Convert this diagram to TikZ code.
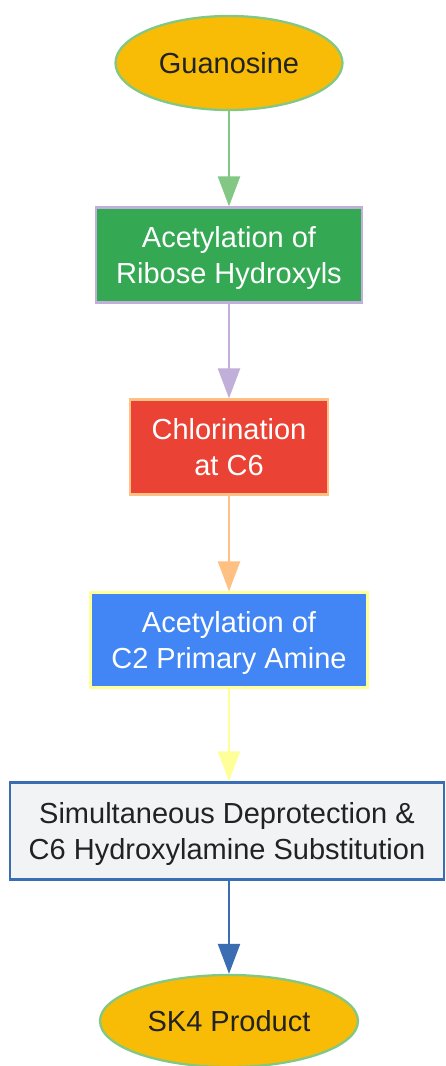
\documentclass[tikz,border=0pt]{standalone}
\usepackage{fontspec}
\setmainfont{Liberation Sans}
\usepackage{tikz}
\usetikzlibrary{shapes.geometric, arrows.meta}
\usepackage{xcolor}

\definecolor{gold}{HTML}{F9BC06}
\definecolor{mint}{HTML}{82C884}
\definecolor{leafgreen}{HTML}{34A853}
\definecolor{lavender}{HTML}{BFAFD9}
\definecolor{tomato}{HTML}{EA4335}
\definecolor{peach}{HTML}{FFC084}
\definecolor{skyblue}{HTML}{4285F4}
\definecolor{paleyellow}{HTML}{FFFF99}
\definecolor{cloud}{HTML}{F1F3F5}
\definecolor{steel}{HTML}{3B6DB3}
\definecolor{ink}{HTML}{222222}

\begin{document}
\begin{tikzpicture}[x=1pt, y=-1pt,
    every node/.style={font=\fontsize{29}{36}\selectfont, align=center, inner sep=0pt, text depth=0pt, line width=2.3pt},
    terminal/.style={ellipse, draw=mint, fill=gold, text=ink},
    stepbox/.style={rectangle, text=white, minimum height=95},
    flow/.style={line width=2.3pt, -{Triangle[length=30pt, width=22pt]}}]
        % Page Frame
        \useasboundingbox[fill=white] (0,0) rectangle (445,1066);

        % Start and End
        \node[terminal, minimum width=227, minimum height=94] (guanosine) at (229,63) {Guanosine};
        \node[terminal, minimum width=258, minimum height=92] (product) at (229,1021) {SK4 Product};

        % Reaction Steps
        \node[stepbox, draw=lavender, fill=leafgreen, minimum width=266] (ribose) at (229,255) {Acetylation of\\Ribose Hydroxyls};
        \node[stepbox, draw=peach, fill=tomato, minimum width=198] (chlor) at (229,447) {Chlorination\\at C6};
        \node[stepbox, draw=paleyellow, fill=skyblue, minimum width=277] (amine) at (229,640) {Acetylation of\\C2 Primary Amine};
        \node[stepbox, draw=steel, fill=cloud, text=ink, minimum width=434, minimum height=97] (deprot) at (227,831) {Simultaneous Deprotection \&\\C6 Hydroxylamine Substitution};

        % Arrows
        \draw[flow, mint] (guanosine.south) -- (ribose.north);
        \draw[flow, lavender] (ribose.south) -- (chlor.north);
        \draw[flow, peach] (chlor.south) -- (amine.north);
        \draw[flow, paleyellow] (amine.south) -- (amine.south |- deprot.north);
        \draw[flow, steel] (amine.south |- deprot.south) -- (product.north);

    \end{tikzpicture}
\end{document}
